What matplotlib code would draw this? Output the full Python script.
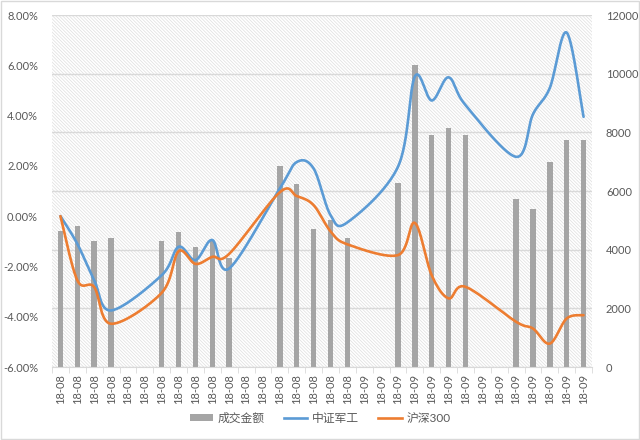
import numpy as np
import matplotlib
matplotlib.use('Agg')
import matplotlib.pyplot as plt
from matplotlib.patches import Rectangle, Patch
from matplotlib.lines import Line2D

plt.rcParams['font.family'] = ['Lato', 'Noto Sans CJK SC', 'DejaVu Sans']
plt.rcParams['hatch.linewidth'] = 0.5

nan = np.nan
labels = ['18-08'] * 18 + ['18-09'] * 14
volume = [4650, 4800, 4300, 4410, nan, nan, 4310, 4610, 4100, 4280, 3700, nan, nan,
          6850, 6240, 4700, 5010, 4410, nan, nan, 6280, 10300, 7910, 8160, 7900, nan, nan,
          5740, 5380, 6980, 7740, 7740]
jungong = [0.0, -1.1, -2.55, -3.75, nan, nan, -2.35, -1.22, -1.75, -0.95, -2.08, nan, nan,
           1.1, 2.15, 1.9, 0.05, -0.25, nan, nan, 1.96, 5.55, 4.6, 5.52, 4.42, nan, nan,
           2.36, 4.05, 5.1, 7.3, 3.95]
hs300 = [0.0, -2.55, -2.82, -4.28, nan, nan, -3.05, -1.4, -1.9, -1.62, -1.5, nan, nan,
         0.95, 0.8, 0.44, -0.6, -1.12, nan, nan, -1.55, -0.27, -2.35, -3.27, -2.81, nan, nan,
         -4.2, -4.47, -5.07, -4.07, -3.94]

GRAY = '#a5a5a5'
BLUE = '#5b9bd5'
ORANGE = '#ed7d31'
TXT = '#595959'


def smooth(x, y, n=30):
    # excel style bezier smoothing, empty cells skipped
    x = np.asarray(x, float)
    y = np.asarray(y, float)
    ok = ~np.isnan(y)
    x, y = x[ok], y[ok]
    P = np.column_stack([x, y])
    P = np.vstack([P[0], P, P[-1]])
    out = []
    t = np.linspace(0, 1, n)[:, None]
    for i in range(1, len(P) - 2):
        p0, p1, p2, p3 = P[i - 1], P[i], P[i + 1], P[i + 2]
        c1 = p1 + (p2 - p0) / 6
        c2 = p2 - (p3 - p1) / 6
        seg = ((1 - t) ** 3) * p1 + 3 * ((1 - t) ** 2) * t * c1 + 3 * (1 - t) * t ** 2 * c2 + t ** 3 * p2
        out.append(seg)
    out = np.vstack(out)
    return out[:, 0], out[:, 1]


fig = plt.figure(figsize=(6.4, 4.4), dpi=100)
fig.patches.append(Rectangle((0.002, 0.002), 0.996, 0.996, transform=fig.transFigure,
                             fill=False, edgecolor='#d9d9d9', linewidth=1))

ax = fig.add_axes([52 / 640, 1 - 367 / 440, 540 / 640, 352 / 440])
x = np.arange(len(labels))

# hatched plot area
ax.add_patch(Rectangle((0, 0), 1, 1, transform=ax.transAxes, facecolor='white',
                       edgecolor='#dedede', linewidth=0, hatch='\\' * 10, zorder=0))
ax.bar(x, volume, width=0.32, color=GRAY, zorder=2)
ax.set_ylim(0, 12000)
ax.set_yticks(np.arange(0, 12001, 2000))
ax.grid(axis='y', color='#d9d9d9', linewidth=1, zorder=1)
ax.set_axisbelow(True)
ax.set_xlim(-0.5, len(labels) - 0.5)
ax.set_xticks(x)
ax.set_xticklabels(labels, rotation=90)
ax.set_xticks(np.arange(-0.5, len(labels), 1), minor=True)
ax.tick_params(axis='x', which='major', length=0, colors=TXT, labelsize=8, pad=5)
ax.tick_params(axis='x', which='minor', length=4, color='#d9d9d9')
for s in ['top', 'left', 'right']:
    ax.spines[s].set_visible(False)
ax.spines['bottom'].set_color('#d9d9d9')

ax2 = ax.twinx()
ax2.patch.set_visible(False)
xs, ys = smooth(x, jungong)
ax2.plot(xs, ys, color=BLUE, linewidth=1.9, solid_capstyle='round')
xs, ys = smooth(x, hs300)
ax2.plot(xs, ys, color=ORANGE, linewidth=1.9, solid_capstyle='round')
ax2.set_ylim(-6, 8)
ax2.set_yticks(np.arange(-6, 8.1, 2))
ax2.set_yticklabels(['%.2f%%' % v for v in np.arange(-6, 8.1, 2)])
ax2.yaxis.tick_left()
ax2.tick_params(axis='y', length=0, colors=TXT, labelsize=8, pad=10)
for s in ['top', 'left', 'right', 'bottom']:
    ax2.spines[s].set_visible(False)

# volume ticks on the right
ax.yaxis.tick_right()
ax.tick_params(axis='y', length=0, colors=TXT, labelsize=8, pad=10)

handles = [Patch(facecolor=GRAY, edgecolor='none'),
           Line2D([], [], color=BLUE, linewidth=1.9),
           Line2D([], [], color=ORANGE, linewidth=1.9)]
fig.legend(handles, ['成交金额', '中证军工', '沪深300'], loc='center', ncol=3,
           bbox_to_anchor=(0.5, 1 - 418 / 440), frameon=False, fontsize=8.5,
           labelcolor=TXT, handlelength=2.0, handleheight=0.5, columnspacing=1.6,
           handletextpad=0.4)

fig.savefig('out.png', dpi=100)
